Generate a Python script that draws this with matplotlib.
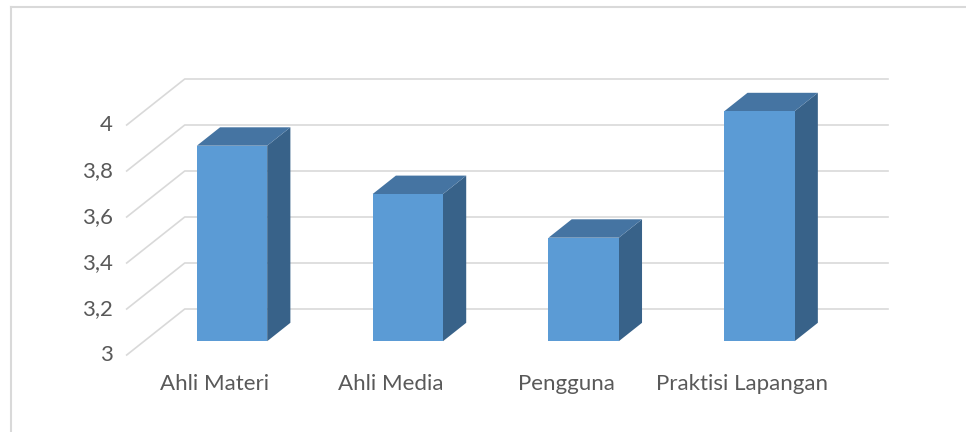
import matplotlib.pyplot as plt
from matplotlib.patches import Polygon
from matplotlib.lines import Line2D

# data
kategori = ['Ahli Materi', 'Ahli Media', 'Pengguna', 'Praktisi Lapangan']
nilai = [3.85, 3.64, 3.45, 4.0]
ticks = [3, 3.2, 3.4, 3.6, 3.8, 4]
tick_labels = ['3', '3,2', '3,4', '3,6', '3,8', '4']

# kedalaman 3D (dalam satuan data)
DX, DY = 0.33, 0.2
f0, f1 = 0.3, 0.7
w = 0.4

c_depan = '#5B9BD5'
c_atas = '#4574A2'
c_samping = '#386289'
c_grid = '#D9D9D9'
c_teks = '#595959'

plt.rcParams['font.family'] = ['Lato', 'DejaVu Sans']

fig = plt.figure(figsize=(9.66, 4.32), dpi=100)
ax = fig.add_axes([126.7 / 966, 77 / 432, 761.3 / 966, 276 / 432])
ax.set_xlim(-0.5, len(kategori) - 0.5 + DX)
ax.set_ylim(3, 4 + DY)
ax.axis('off')

# garis grid (dinding belakang + diagonal)
x0, x1 = -0.5, len(kategori) - 0.5 + DX
for t, lab in zip(ticks, tick_labels):
    ax.plot([x0, x0 + DX, x1], [t, t + DY, t + DY], color=c_grid, lw=1.2,
            clip_on=False, zorder=1)
    ax.annotate(lab, (x0, t), xytext=(-10, 0), textcoords='offset points',
                ha='right', va='center', fontsize=16, color=c_teks)

# batang 3D
for i, v in enumerate(nilai):
    xl, xr = i - w / 2, i + w / 2
    b = 3
    depan = [(xl + f0 * DX, b + f0 * DY), (xr + f0 * DX, b + f0 * DY),
             (xr + f0 * DX, v + f0 * DY), (xl + f0 * DX, v + f0 * DY)]
    samping = [(xr + f0 * DX, b + f0 * DY), (xr + f1 * DX, b + f1 * DY),
               (xr + f1 * DX, v + f1 * DY), (xr + f0 * DX, v + f0 * DY)]
    atas = [(xl + f0 * DX, v + f0 * DY), (xr + f0 * DX, v + f0 * DY),
            (xr + f1 * DX, v + f1 * DY), (xl + f1 * DX, v + f1 * DY)]
    ax.add_patch(Polygon(samping, closed=True, fc=c_samping, ec='none', zorder=3))
    ax.add_patch(Polygon(atas, closed=True, fc=c_atas, ec='none', zorder=3))
    ax.add_patch(Polygon(depan, closed=True, fc=c_depan, ec='none', zorder=4))
    ax.annotate(kategori[i], (i, 3), xytext=(0, -21), textcoords='offset points',
                ha='center', va='center', fontsize=16, color=c_teks)

# bingkai grafik
fig.add_artist(Line2D([11 / 966, 11 / 966], [0, 425 / 432], color=c_grid, lw=1.5))
fig.add_artist(Line2D([11 / 966, 1], [425 / 432, 425 / 432], color=c_grid, lw=1.5))

fig.savefig('out.png', dpi=100)
